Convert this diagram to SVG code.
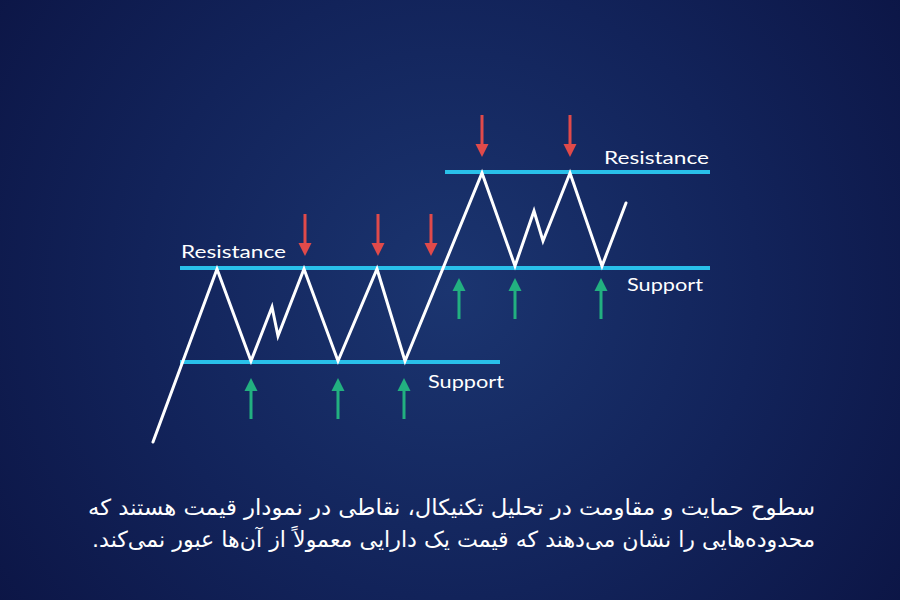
<svg xmlns="http://www.w3.org/2000/svg" width="900" height="600" viewBox="0 0 900 600">
  <defs>
    <radialGradient id="bg" cx="450" cy="290" r="560" gradientUnits="userSpaceOnUse">
      <stop offset="0" stop-color="#1b3570"/>
      <stop offset="0.55" stop-color="#12235a"/>
      <stop offset="1" stop-color="#0c1545"/>
    </radialGradient>
    <g id="arrowDown">
      <line x1="0" y1="0" x2="0" y2="32" stroke="#e04a4a" stroke-width="3"/>
      <path d="M-6.5,29 L6.5,29 L0,42 Z" fill="#e04a4a"/>
    </g>
    <g id="arrowUp">
      <line x1="0" y1="10" x2="0" y2="41" stroke="#22b080" stroke-width="3"/>
      <path d="M0,0 L6.5,13 L-6.5,13 Z" fill="#22b080"/>
    </g>
  </defs>
  <style>
    .level { stroke: #29c0ea; stroke-width: 4; fill: none; }
    .price { stroke: #ffffff; stroke-width: 3; fill: none; stroke-linejoin: miter; stroke-linecap: round; }
    .lbl { font-family: "Lato", "Liberation Sans", sans-serif; font-size: 18px; fill: #ffffff; }
    .fa { font-family: "DejaVu Sans", "Noto Sans", sans-serif; font-size: 22px; fill: #ffffff; }
  </style>
  <rect width="900" height="600" fill="url(#bg)"/>

  <g id="levels">
    <line id="support-low" class="level" x1="180" y1="362" x2="500" y2="362"/>
    <line id="mid-level" class="level" x1="180" y1="268" x2="710" y2="268"/>
    <line id="resistance-high" class="level" x1="445" y1="172" x2="710" y2="172"/>
  </g>

  <g id="price-path">
    <polyline class="price" points="153,442 217,269 251,361 272,307 278,336 304,269 338,361 377,269 405,361 482,173 515,266 534,211 543,241 570,173 602,266 626,203"/>
  </g>

  <g id="connectors">
    <use href="#arrowDown" x="305" y="214"/>
    <use href="#arrowDown" x="378" y="214"/>
    <use href="#arrowDown" x="431" y="214"/>
    <use href="#arrowDown" x="482" y="115"/>
    <use href="#arrowDown" x="570" y="115"/>

    <use href="#arrowUp" x="251" y="378"/>
    <use href="#arrowUp" x="338" y="378"/>
    <use href="#arrowUp" x="404" y="378"/>
    <use href="#arrowUp" x="459" y="278"/>
    <use href="#arrowUp" x="515" y="278"/>
    <use href="#arrowUp" x="601" y="278"/>
  </g>

  <g id="labels">
    <text class="lbl" x="181" y="258" textLength="105" lengthAdjust="spacingAndGlyphs">Resistance</text>
    <text class="lbl" x="428" y="388" textLength="76" lengthAdjust="spacingAndGlyphs">Support</text>
    <text class="lbl" x="604" y="164" textLength="105" lengthAdjust="spacingAndGlyphs">Resistance</text>
    <text class="lbl" x="627" y="291" textLength="76" lengthAdjust="spacingAndGlyphs">Support</text>
  </g>

  <g id="caption">
    <text class="fa" x="815" y="515" direction="rtl" text-anchor="start" textLength="727" lengthAdjust="spacingAndGlyphs">سطوح حمایت و مقاومت در تحلیل تکنیکال، نقاطی در نمودار قیمت هستند که</text>
    <text class="fa" x="815" y="547" direction="rtl" text-anchor="start" textLength="723" lengthAdjust="spacingAndGlyphs">محدوده‌هایی را نشان می‌دهند که قیمت یک دارایی معمولاً از آن‌ها عبور نمی‌کند.</text>
  </g>
</svg>
